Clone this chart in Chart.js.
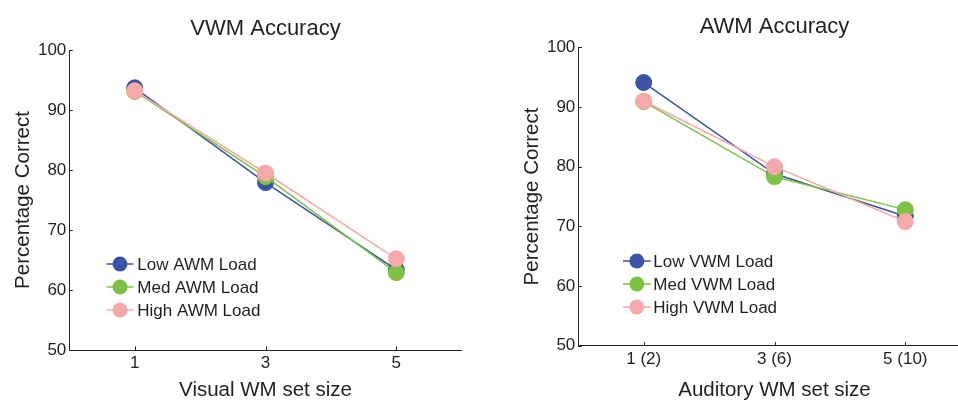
<!DOCTYPE html>
<html>
<head>
<meta charset="utf-8">
<script src="https://cdn.jsdelivr.net/npm/chart.js@4/dist/chart.umd.min.js"></script>
<style>
  html, body { margin: 0; padding: 0; background: #fff; overflow: hidden; width: 958px; height: 401px; }
  canvas { position: absolute; top: 0; }
</style>
</head>
<body>
<canvas id="c1" width="479" height="401" style="left:0px"></canvas>
<canvas id="c2" width="479" height="401" style="left:509px"></canvas>
<script>
// ---- Data ----
const setSizes = [1, 3, 5];
const vwmTickLabels = ['1', '3', '5'];
const awmTickLabels = ['1 (2)', '3 (6)', '5 (10)'];
const yTickValues = [50, 60, 70, 80, 90, 100];

// VWM accuracy by AWM load
const vwmLow  = [93.7, 77.9, 63.4];
const vwmMed  = [93.1, 78.9, 62.9];
const vwmHigh = [93.2, 79.5, 65.2];

// AWM accuracy by VWM load
const awmLow  = [94.1, 78.8, 71.7];
const awmMed  = [90.9, 78.3, 72.8];
const awmHigh = [91.0, 80.0, 70.8];

const vwmSeriesNames = ['Low AWM Load', 'Med AWM Load', 'High AWM Load'];
const awmSeriesNames = ['Low VWM Load', 'Med VWM Load', 'High VWM Load'];

// ---- Styles ----
const COLORS = ['#3a53a4', '#7dc243', '#f5a9a9'];
const TEXT = '#231f20';
const FONT = "'Liberation Sans', Arial, Helvetica, sans-serif";

const titlePlugin = {
  id: 'plotTitle',
  afterDraw(chart, args, opts) {
    const ctx = chart.ctx, a = chart.chartArea;
    ctx.save();
    ctx.fillStyle = TEXT;
    ctx.font = opts.size + 'px ' + FONT;
    ctx.textAlign = 'center';
    ctx.textBaseline = 'alphabetic';
    ctx.fillText(opts.text, (a.left + a.right) / 2, opts.baseline);
    ctx.restore();
  }
};

const innerTicksPlugin = {
  id: 'innerTicks',
  afterDraw(chart) {
    const ctx = chart.ctx, a = chart.chartArea;
    const xs = chart.scales.x, ys = chart.scales.y;
    ctx.save();
    ctx.strokeStyle = TEXT;
    ctx.lineWidth = 1;
    ctx.beginPath();
    xs.ticks.forEach(t => {
      const px = Math.round(xs.getPixelForValue(t.value)) + 0.5;
      ctx.moveTo(px, a.bottom);
      ctx.lineTo(px, a.bottom - 3.5);
    });
    ys.ticks.forEach(t => {
      const py = Math.round(ys.getPixelForValue(t.value)) + 0.5;
      ctx.moveTo(a.left, py);
      ctx.lineTo(a.left + 3.5, py);
    });
    ctx.stroke();
    ctx.restore();
  }
};

const legendPlugin = {
  id: 'lineLegend',
  afterDraw(chart, args, opts) {
    const ctx = chart.ctx;
    ctx.save();
    ctx.font = opts.size + 'px ' + FONT;
    ctx.textBaseline = 'middle';
    ctx.textAlign = 'left';
    chart.data.datasets.forEach((ds, i) => {
      const y = opts.y + i * opts.rowH;
      ctx.strokeStyle = ds.borderColor;
      ctx.lineWidth = 1.5;
      ctx.beginPath();
      ctx.moveTo(opts.x0, y);
      ctx.lineTo(opts.x1, y);
      ctx.stroke();
      ctx.fillStyle = ds.backgroundColor;
      ctx.beginPath();
      ctx.arc((opts.x0 + opts.x1) / 2, y, opts.r, 0, Math.PI * 2);
      ctx.fill();
      ctx.fillStyle = TEXT;
      ctx.fillText(ds.label, opts.tx, y + 1);
    });
    ctx.restore();
  }
};

function makeDatasets(names, seriesList) {
  return seriesList.map((vals, i) => ({
    label: names[i],
    data: setSizes.map((x, j) => ({ x: x, y: vals[j] })),
    borderColor: COLORS[i],
    backgroundColor: COLORS[i],
    pointBackgroundColor: COLORS[i],
    pointBorderColor: COLORS[i],
    borderWidth: 1.5,
    pointRadius: 8,
    pointBorderWidth: 1,
    pointHoverRadius: 8,
    tension: 0,
    order: 2 - i
  }));
}

function makeChart(id, cfg) {
  return new Chart(document.getElementById(id), {
    type: 'line',
    data: { datasets: makeDatasets(cfg.names, cfg.series) },
    options: {
      responsive: false,
      animation: false,
      devicePixelRatio: 1,
      events: [],
      layout: { padding: { top: cfg.top, right: 17.3, left: 0, bottom: 0 } },
      plugins: {
        legend: { display: false },
        tooltip: { enabled: false },
        plotTitle: { text: cfg.title, size: 22, baseline: cfg.titleBaseline },
        lineLegend: cfg.legend
      },
      scales: {
        x: {
          type: 'linear',
          min: 0, max: 6,
          afterBuildTicks: s => { s.ticks = setSizes.map(v => ({ value: v })); },
          afterFit: s => { s.height = cfg.xHeight; },
          ticks: {
            color: TEXT,
            font: { family: FONT, size: 17 },
            padding: 3,
            maxRotation: 0,
            callback: v => cfg.tickLabels[setSizes.indexOf(v)]
          },
          grid: { display: true, drawOnChartArea: false, drawTicks: false },
          border: { display: true, color: TEXT, width: 1 },
          title: {
            display: true, text: cfg.xTitle, color: TEXT,
            font: { family: FONT, size: 20.5, lineHeight: 1 },
            padding: { top: 0, bottom: 0 }
          }
        },
        y: {
          min: 50, max: 100,
          afterBuildTicks: s => { s.ticks = yTickValues.map(v => ({ value: v })); },
          afterFit: s => { s.width = 69.3; },
          ticks: {
            color: TEXT,
            font: { family: FONT, size: 17 },
            padding: 3
          },
          grid: { display: true, drawOnChartArea: false, drawTicks: false },
          border: { display: true, color: TEXT, width: 1 },
          title: {
            display: true, text: 'Percentage Correct', color: TEXT,
            font: { family: FONT, size: 20.5, lineHeight: 1 },
            padding: { top: 13, bottom: 0 }
          }
        }
      }
    },
    plugins: [titlePlugin, innerTicksPlugin, legendPlugin]
  });
}

makeChart('c1', {
  names: vwmSeriesNames,
  series: [vwmLow, vwmMed, vwmHigh],
  title: 'VWM Accuracy',
  titleBaseline: 35,
  top: 50,
  xHeight: 51,
  xTitle: 'Visual WM set size',
  tickLabels: vwmTickLabels,
  legend: { x0: 106.7, x1: 133.3, r: 7.5, tx: 137.3, y: 264, rowH: 23, size: 17 }
});

makeChart('c2', {
  names: awmSeriesNames,
  series: [awmLow, awmMed, awmHigh],
  title: 'AWM Accuracy',
  titleBaseline: 33,
  top: 47.3,
  xHeight: 55.3,
  xTitle: 'Auditory WM set size',
  tickLabels: awmTickLabels,
  legend: { x0: 114, x1: 141.7, r: 7.5, tx: 144.3, y: 261, rowH: 23, size: 17 }
});
</script>
</body>
</html>
